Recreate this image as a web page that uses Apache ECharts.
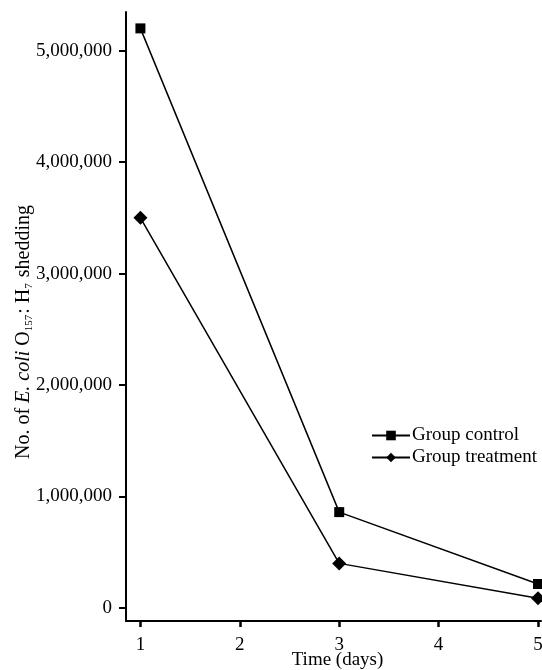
<!DOCTYPE html>
<html>
<head>
<meta charset="utf-8">
<script src="https://cdn.jsdelivr.net/npm/echarts@6/dist/echarts.min.js"></script>
<style>
  html, body { margin: 0; padding: 0; background: #fff; }
  #chart { width: 542px; height: 670px; }
</style>
</head>
<body>
<div id="chart"></div>
<script>
// Sampling days and E. coli O157:H7 counts per group
const days = [1, 3, 5];
const controlCounts = [5200000, 860000, 215000];
const treatmentCounts = [3500000, 400000, 87000];
const seriesNames = ['Group control', 'Group treatment'];

// Axis tick positions
const xTicks = [1, 2, 3, 4, 5];
const yTicks = [0, 1000000, 2000000, 3000000, 4000000, 5000000];

const serif = '"Liberation Serif", "Times New Roman", serif';

const pairs = (xs, ys) => xs.map((x, i) => [x, ys[i]]);

const chart = echarts.init(document.getElementById('chart'));

chart.setOption({
  animation: false,
  backgroundColor: '#fff',
  grid: { left: 126, right: 1, top: 12, bottom: 49, containLabel: false, outerBoundsMode: 'none' },
  xAxis: {
    type: 'value',
    min: 0.855,
    max: 5.03,
    name: 'Time (days)',
    nameLocation: 'middle',
    nameGap: 30,
    nameMoveOverlap: false,
    nameTextStyle: { fontFamily: serif, fontSize: 19, color: '#000', padding: [0, 0, 0, 8] },
    axisLine: { show: true, onZero: false, lineStyle: { color: '#000', width: 2 } },
    axisTick: { show: true, length: 6, lineStyle: { color: '#000', width: 2.5 }, customValues: xTicks },
    axisLabel: { color: '#000', fontFamily: serif, fontSize: 19, margin: 15, customValues: xTicks },
    splitLine: { show: false }
  },
  yAxis: {
    type: 'value',
    min: -117000,
    max: 5347000,
    axisLine: { show: true, onZero: false, lineStyle: { color: '#000', width: 2 } },
    axisTick: { show: true, length: 7, lineStyle: { color: '#000', width: 2 }, customValues: yTicks },
    axisLabel: {
      color: '#000', fontFamily: serif, fontSize: 19, margin: 14, customValues: yTicks,
      formatter: v => v.toLocaleString('en-US')
    },
    splitLine: { show: false }
  },
  legend: {
    orient: 'vertical',
    left: 366,
    top: 421,
    itemWidth: 38,
    itemHeight: 12,
    itemGap: 3,
    data: seriesNames,
    textStyle: { fontFamily: serif, fontSize: 19, color: '#000', padding: [0, 0, 0, -3] }
  },
  graphic: [{
    type: 'text',
    x: 24,
    y: 332,
    rotation: Math.PI / 2,
    style: {
      text: '{n|No. of }{i|E. coli}{n| O}{s|157}{n|: H}{s|7}{n| shedding}',
      align: 'center',
      verticalAlign: 'middle',
      fill: '#000',
      rich: {
        n: { fontFamily: serif, fontSize: 20, fill: '#000', verticalAlign: 'middle', lineHeight: 22 },
        i: { fontFamily: serif, fontSize: 20, fontStyle: 'italic', fill: '#000', verticalAlign: 'middle', lineHeight: 22 },
        s: { fontFamily: serif, fontSize: 11, fill: '#000', verticalAlign: 'bottom', lineHeight: 22, padding: [0, 1, 0, 0] }
      }
    }
  }],
  series: [
    {
      name: seriesNames[0],
      type: 'line',
      data: pairs(days, controlCounts),
      symbol: 'rect',
      symbolSize: 10,
      lineStyle: { color: '#000', width: 1.5 },
      itemStyle: { color: '#000' }
    },
    {
      name: seriesNames[1],
      type: 'line',
      data: pairs(days, treatmentCounts),
      symbol: 'diamond',
      symbolSize: 14,
      lineStyle: { color: '#000', width: 1.5 },
      itemStyle: { color: '#000' }
    }
  ]
});
</script>
</body>
</html>
